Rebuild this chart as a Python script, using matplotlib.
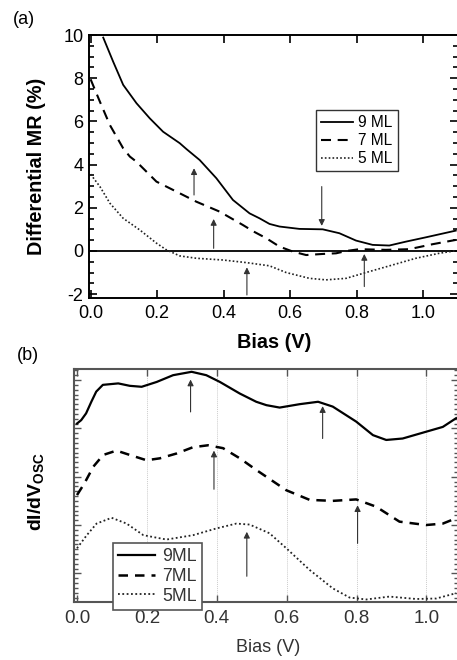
import matplotlib
matplotlib.use("Agg")
import matplotlib.pyplot as plt
from matplotlib.ticker import MultipleLocator, FormatStrFormatter

plt.rcParams['font.family'] = ['Liberation Sans', 'DejaVu Sans']
plt.rcParams['mathtext.fontset'] = 'custom'
plt.rcParams['mathtext.rm'] = 'Liberation Sans'
plt.rcParams['mathtext.bf'] = 'Liberation Sans:bold'
plt.rcParams['axes.unicode_minus'] = False

# ---------------- Panel (a) data: Differential MR (%) vs Bias (V) ----------------
a9_x = [0.038, 0.068, 0.098, 0.138, 0.178, 0.218, 0.268, 0.288, 0.328, 0.378, 0.428,
        0.478, 0.508, 0.538, 0.568, 0.628, 0.698, 0.748, 0.798, 0.848, 0.898, 0.948,
        1.008, 1.098]
a9_y = [9.88, 8.76, 7.69, 6.84, 6.14, 5.52, 4.99, 4.72, 4.21, 3.37, 2.36,
        1.74, 1.51, 1.25, 1.13, 1.02, 1.00, 0.82, 0.48, 0.28, 0.25, 0.43,
        0.63, 0.94]

a7_x = [0.0, 0.028, 0.058, 0.098, 0.118, 0.138, 0.198, 0.268, 0.318, 0.388, 0.458,
        0.49, 0.528, 0.568, 0.608, 0.648, 0.698, 0.738, 0.77, 0.808, 0.888, 0.958,
        1.028, 1.098]
a7_y = [7.95, 6.91, 5.83, 4.75, 4.37, 4.13, 3.21, 2.67, 2.28, 1.82, 1.20,
        0.90, 0.59, 0.20, -0.03, -0.19, -0.14, -0.11, 0.0, 0.08, 0.05, 0.08,
        0.31, 0.51]

a5_x = [0.0, 0.028, 0.058, 0.098, 0.148, 0.198, 0.228, 0.268, 0.318, 0.398, 0.468,
        0.538, 0.588, 0.658, 0.708, 0.768, 0.828, 0.908, 0.978, 1.048, 1.098]
a5_y = [3.55, 2.98, 2.21, 1.51, 0.97, 0.36, 0.05, -0.23, -0.34, -0.42, -0.54,
        -0.69, -1.00, -1.27, -1.34, -1.27, -1.00, -0.65, -0.34, -0.11, 0.01]

a_labels = ['9 ML', '7 ML', '5 ML']
# arrows: x, tail y, tip y
a_arrow_x = [0.311, 0.370, 0.695, 0.470, 0.823]
a_arrow_from = [2.59, 0.12, 2.98, -2.04, -1.65]
a_arrow_to = [3.83, 1.48, 1.16, -0.76, -0.14]

# ---------------- Panel (b) data: dI/dV_osc (offset, arb. units) ----------------
b9_x = [0.0, 0.012, 0.026, 0.041, 0.055, 0.074, 0.118, 0.151, 0.185, 0.228, 0.275,
        0.328, 0.37, 0.409, 0.466, 0.513, 0.542, 0.58, 0.637, 0.69, 0.732, 0.799,
        0.847, 0.885, 0.932, 0.999, 1.047, 1.085]
b9_y = [4.10, 4.17, 4.31, 4.55, 4.76, 4.90, 4.93, 4.88, 4.86, 4.96, 5.10,
        5.17, 5.10, 4.96, 4.72, 4.55, 4.48, 4.43, 4.50, 4.55, 4.45, 4.14,
        3.86, 3.76, 3.79, 3.93, 4.03, 4.21]

b7_x = [0.0, 0.021, 0.047, 0.075, 0.113, 0.151, 0.199, 0.237, 0.285, 0.332, 0.375,
        0.418, 0.466, 0.513, 0.599, 0.666, 0.732, 0.799, 0.856, 0.923, 0.999, 1.047,
        1.085]
b7_y = [2.62, 2.86, 3.21, 3.45, 3.54, 3.45, 3.34, 3.38, 3.48, 3.61, 3.65,
        3.59, 3.38, 3.14, 2.72, 2.52, 2.50, 2.53, 2.38, 2.07, 2.00, 2.03,
        2.14]

b5_x = [0.0, 0.028, 0.056, 0.099, 0.142, 0.19, 0.256, 0.332, 0.399, 0.456, 0.494,
        0.551, 0.599, 0.666, 0.732, 0.78, 0.828, 0.894, 0.971, 1.028, 1.085]
b5_y = [1.52, 1.79, 2.03, 2.15, 2.03, 1.79, 1.70, 1.79, 1.93, 2.03, 2.01,
        1.83, 1.52, 1.07, 0.69, 0.50, 0.46, 0.52, 0.47, 0.48, 0.59]

b_labels = ['9ML', '7ML', '5ML']
b_arrow_x = [0.325, 0.392, 0.703, 0.803, 0.486]
b_arrow_from = [4.34, 2.74, 3.79, 1.62, 0.94]
b_arrow_to = [5.01, 3.54, 4.46, 2.41, 1.86]

W, H = 457, 660
fig = plt.figure(figsize=(W / 100, H / 100), dpi=100)

def fx(px):
    return px / W

def fy(py):
    return 1 - py / H

# ---------------- Panel (a) ----------------
ax1 = fig.add_axes([fx(89), fy(298), fx(457.5 - 89), (298 - 35) / H])
ax1.plot(a9_x, a9_y, color='black', lw=1.3, label=a_labels[0])
ax1.plot(a7_x, a7_y, color='black', lw=1.5, ls=(0, (4.8, 3.2)), label=a_labels[1])
ax1.plot(a5_x, a5_y, color='#222222', lw=1.2, ls=(0, (1, 1.3)), label=a_labels[2])
ax1.axhline(0, color='black', lw=1.3, zorder=1)
for x, y0, y1 in zip(a_arrow_x, a_arrow_from, a_arrow_to):
    ax1.annotate('', xy=(x, y1), xytext=(x, y0),
                 arrowprops=dict(arrowstyle='-|>', color='#333333', lw=0.8,
                                 mutation_scale=9, shrinkA=0, shrinkB=0))
ax1.set_xlim(-0.0048, 1.1032)
ax1.set_ylim(-2.18, 10.0)
ax1.xaxis.set_major_locator(MultipleLocator(0.2))
ax1.xaxis.set_major_formatter(FormatStrFormatter('%.1f'))
ax1.yaxis.set_major_locator(MultipleLocator(2))
ax1.yaxis.set_minor_locator(MultipleLocator(0.5))
ax1.tick_params(axis='both', which='both', direction='in', top=True, right=True,
                labelsize=13, width=1.2, colors='black')
ax1.tick_params(axis='both', which='major', length=6)
ax1.tick_params(axis='y', which='minor', length=3.5)
ax1.tick_params(axis='x', which='minor', length=0)
ax1.tick_params(axis='x', pad=5)
ax1.tick_params(axis='y', pad=4)
for s in ['left', 'bottom', 'top']:
    ax1.spines[s].set_linewidth(1.4)
ax1.spines['right'].set_linewidth(0.8)
ax1.spines['right'].set_color('#999999')
leg1 = ax1.legend(loc='upper left', bbox_to_anchor=(fx(316), fy(110)),
                  bbox_transform=fig.transFigure, borderaxespad=0, fontsize=11.2,
                  frameon=True, fancybox=False, handlelength=2.0, handletextpad=0.35,
                  labelspacing=0.18, borderpad=0.35)
leg1.get_frame().set_edgecolor('black')
leg1.get_frame().set_linewidth(1.0)
fig.text(fx(36.5), fy(166), 'Differential MR (%)', fontsize=14.3, fontweight='bold',
         rotation=90, ha='center', va='center')
fig.text(fx(274), fy(343), 'Bias (V)', fontsize=14.3, fontweight='bold',
         ha='center', va='center')
fig.text(fx(23.5), fy(20), '(a)', fontsize=13, va='center', ha='center')

# ---------------- Panel (b) ----------------
gcol = '#555555'
ax2 = fig.add_axes([fx(74), fy(601.7), fx(457.5 - 74), (601.7 - 369) / H])
ax2.plot(b9_x, b9_y, color='black', lw=1.6, label=b_labels[0])
ax2.plot(b7_x, b7_y, color='black', lw=1.8, ls=(0, (3.8, 2.8)), label=b_labels[1])
ax2.plot(b5_x, b5_y, color='#222222', lw=1.3, ls=(0, (1, 1.4)), label=b_labels[2])
for x, y0, y1 in zip(b_arrow_x, b_arrow_from, b_arrow_to):
    ax2.annotate('', xy=(x, y1), xytext=(x, y0),
                 arrowprops=dict(arrowstyle='-|>', color='#333333', lw=0.8,
                                 mutation_scale=9, shrinkA=0, shrinkB=0))
ax2.set_xlim(-0.0086, 1.089)
ax2.set_ylim(0.414, 5.228)
ax2.xaxis.set_major_locator(MultipleLocator(0.2))
ax2.xaxis.set_major_formatter(FormatStrFormatter('%.1f'))
ax2.yaxis.set_major_locator(MultipleLocator(1))
ax2.yaxis.set_minor_locator(MultipleLocator(0.1))
ax2.set_yticklabels([])
ax2.tick_params(axis='both', which='both', direction='in', top=True, right=True,
                labelsize=13.5, width=1.0, color=gcol, labelcolor='#333333')
ax2.tick_params(axis='both', which='major', length=5)
ax2.tick_params(axis='y', which='minor', length=3)
ax2.tick_params(axis='x', which='minor', length=0)
ax2.tick_params(axis='x', pad=6)
for x in [0.2, 0.4, 0.6, 0.8, 1.0]:
    ax2.axvline(x, color='#cccccc', lw=0.7, ls=(0, (1, 1)), zorder=0)
for s in ['left', 'bottom', 'top']:
    ax2.spines[s].set_linewidth(1.5)
    ax2.spines[s].set_color(gcol)
ax2.spines['right'].set_linewidth(0.8)
ax2.spines['right'].set_color('#aaaaaa')
leg2 = ax2.legend(loc='upper left', bbox_to_anchor=(fx(113), fy(543)),
                  bbox_transform=fig.transFigure, borderaxespad=0, fontsize=12.7,
                  frameon=True, fancybox=False, handlelength=2.1, handletextpad=0.4,
                  labelspacing=0.15, borderpad=0.3, framealpha=1)
leg2.get_frame().set_edgecolor(gcol)
leg2.get_frame().set_linewidth(1.2)
for t in leg2.get_texts():
    t.set_color('#333333')
fig.text(fx(37), fy(492), r'$\mathbf{dI/dV}_{\mathbf{OSC}}$', fontsize=14,
         rotation=90, ha='center', va='center')
fig.text(fx(268), fy(648), 'Bias (V)', fontsize=13, color='#333333',
         ha='center', va='center')
fig.text(fx(28), fy(355), '(b)', fontsize=13, va='center', ha='center')

fig.savefig('out.png', dpi=100)
